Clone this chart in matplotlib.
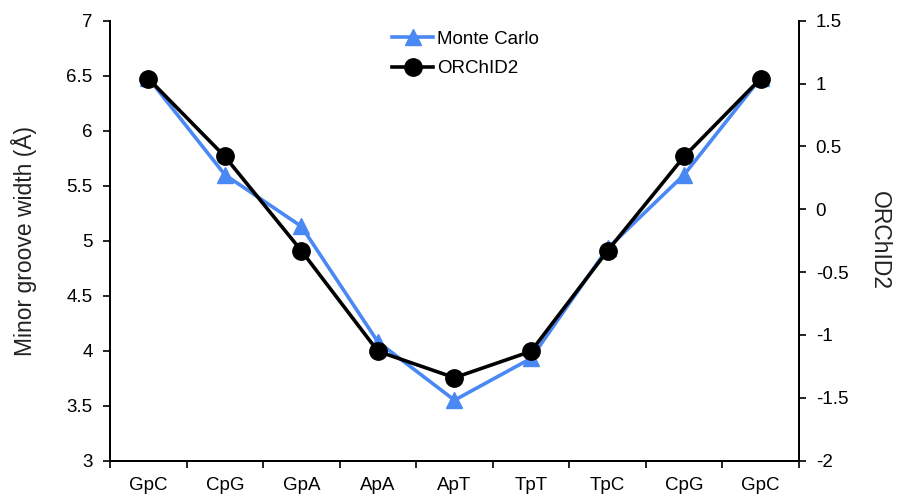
import matplotlib
matplotlib.use("Agg")
import matplotlib.pyplot as plt
import numpy as np

plt.rcParams['font.family'] = ['Liberation Sans', 'DejaVu Sans']

# steps along the sequence
steps = ["GpC", "CpG", "GpA", "ApA", "ApT", "TpT", "TpC", "CpG", "GpC"]
# minor groove width, left axis
monte_carlo = [6.48, 5.60, 5.13, 4.08, 3.55, 3.93, 4.93, 5.60, 6.48]
# ORChID2 score, right axis
orchid2 = [1.04, 0.42, -0.33, -1.13, -1.34, -1.13, -0.33, 0.42, 1.04]

left_ticks = [3, 3.5, 4, 4.5, 5, 5.5, 6, 6.5, 7]
right_ticks = [-2, -1.5, -1, -0.5, 0, 0.5, 1, 1.5]

blue = "#4a89f3"
fs = 13.5
label_fs = 16.5

fig = plt.figure(figsize=(9.03, 4.99), dpi=100)
ax = fig.add_axes([0.1218, 0.0768, 0.763, 0.8817])
ax2 = ax.twinx()

x = np.arange(len(steps))
l1, = ax.plot(x, monte_carlo, color=blue, lw=2.6, marker="^", ms=11,
              label="Monte Carlo")
l2, = ax2.plot(x, orchid2, color="black", lw=2.6, marker="o", ms=12.5,
               label="ORChID2")

ax.set_xlim(-0.5, len(steps) - 0.5)
ax.set_ylim(3, 7)
ax2.set_ylim(-2, 1.5)

ax.set_yticks(left_ticks)
ax.set_yticklabels([f"{t:g}" for t in left_ticks])
ax2.set_yticks(right_ticks)
ax2.set_yticklabels([f"{t:g}" for t in right_ticks])

# category labels between boundary ticks
ax.set_xticks(x)
ax.set_xticklabels(steps)
ax.set_xticks(np.arange(-0.5, len(steps)), minor=True)
ax.tick_params(axis="x", which="major", length=0, pad=12, labelsize=fs)
ax.tick_params(axis="x", which="minor", length=5, width=1.2, direction="out")
ax.tick_params(axis="y", length=5, width=1.2, pad=7.5, labelsize=fs)
ax2.tick_params(axis="y", length=5, width=1.2, pad=7, labelsize=fs)

for a in (ax, ax2):
    a.spines["top"].set_visible(False)
    for s in ("left", "right", "bottom"):
        a.spines[s].set_linewidth(1.3)

ax.set_ylabel("Minor groove width (Å)", fontsize=label_fs, labelpad=21, color="#222222")
ax2.set_ylabel("ORChID2", fontsize=label_fs, rotation=270, labelpad=31, color="#222222")

fig.legend(handles=[l1, l2], loc="upper left", bbox_to_anchor=(0.434, 0.939),
           frameon=False, fontsize=fs, handlelength=2.2, handletextpad=0.2,
           borderpad=0, borderaxespad=0, labelspacing=0.66)

fig.savefig("out.png", dpi=100)
